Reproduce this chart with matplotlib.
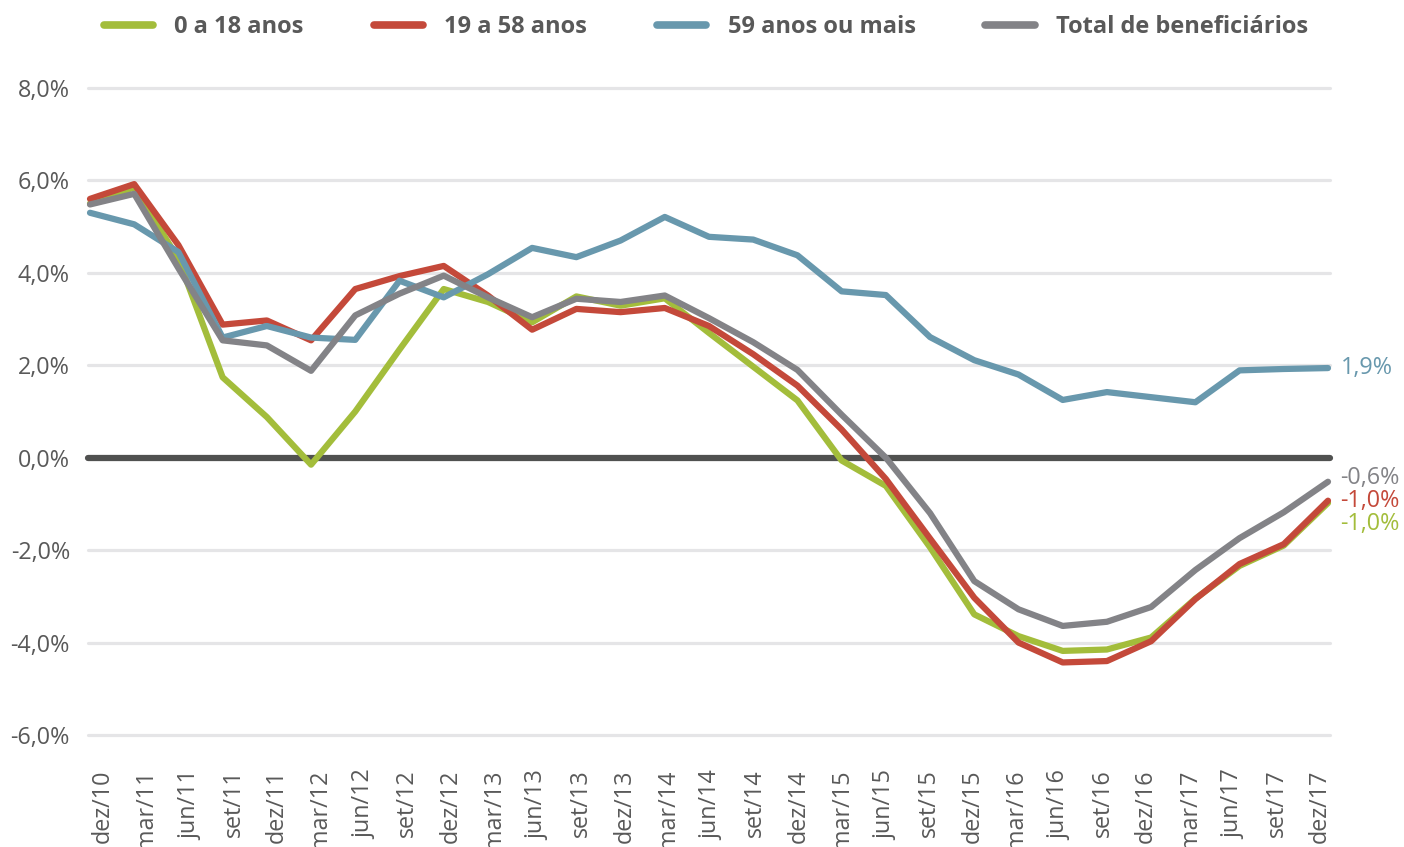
import numpy as np
import matplotlib
matplotlib.use("Agg")
import matplotlib.pyplot as plt

plt.rcParams['font.family'] = ['Open Sans', 'DejaVu Sans']

periods = ["dez/10", "mar/11", "jun/11", "set/11", "dez/11", "mar/12", "jun/12", "set/12",
           "dez/12", "mar/13", "jun/13", "set/13", "dez/13", "mar/14", "jun/14", "set/14",
           "dez/14", "mar/15", "jun/15", "set/15", "dez/15", "mar/16", "jun/16", "set/16",
           "dez/16", "mar/17", "jun/17", "set/17", "dez/17"]

age_0_18 = [5.50, 5.85, 4.30, 1.74, 0.88, -0.15, 1.00, 2.34, 3.65, 3.37, 2.93, 3.49, 3.29, 3.45,
            2.70, 1.97, 1.24, -0.06, -0.61, -1.94, -3.39, -3.86, -4.18, -4.15, -3.89, -3.05,
            -2.34, -1.90, -0.98]
age_19_58 = [5.60, 5.92, 4.60, 2.88, 2.97, 2.54, 3.65, 3.93, 4.15, 3.51, 2.77, 3.22, 3.15, 3.24,
             2.85, 2.24, 1.56, 0.61, -0.46, -1.75, -3.03, -4.00, -4.43, -4.40, -3.97, -3.06,
             -2.30, -1.87, -0.93]
age_59_plus = [5.30, 5.05, 4.45, 2.60, 2.85, 2.60, 2.55, 3.83, 3.47, 3.97, 4.54, 4.34, 4.70, 5.21,
               4.78, 4.72, 4.38, 3.60, 3.52, 2.61, 2.11, 1.80, 1.25, 1.42, 1.31, 1.20,
               1.89, 1.92, 1.94]
total = [5.48, 5.71, 4.10, 2.54, 2.43, 1.88, 3.08, 3.55, 3.94, 3.47, 3.04, 3.44, 3.37, 3.51,
         3.02, 2.50, 1.90, 0.93, 0.00, -1.20, -2.67, -3.28, -3.64, -3.55, -3.23, -2.43,
         -1.74, -1.18, -0.52]

series_names = ["0 a 18 anos", "19 a 58 anos", "59 anos ou mais", "Total de beneficiários"]
end_labels = ["-1,0%", "-1,0%", "1,9%", "-0,6%"]
yticks = [-6, -4, -2, 0, 2, 4, 6, 8]
ytick_labels = ["-6,0%", "-4,0%", "-2,0%", "0,0%", "2,0%", "4,0%", "6,0%", "8,0%"]

colors = ["#A3BD3B", "#C4493A", "#6898AD", "#838387"]
label_offsets = [(9, -15), (9, 0), (9, 0), (9, 3)]
text_grey = "#595959"
fs = 16.8

W, H = 1404, 847
fig = plt.figure(figsize=(W / 100, H / 100), dpi=100)
left, right, top, bottom = 88, 1330, 88, 735
ax = fig.add_axes([left / W, 1 - bottom / H, (right - left) / W, (bottom - top) / H])

x = np.arange(len(periods))
n = len(periods)
pad = 2 / 44.21
ax.set_xlim(-pad, n - 1 + pad)
ax.set_ylim(-6, 8)

for yv in yticks:
    if yv == 0:
        continue
    ax.axhline(yv, color="#E5E5E7", lw=2.3, zorder=1, clip_on=False, solid_capstyle="round")
ax.axhline(0, color="#505150", lw=4.5, zorder=2, clip_on=False, solid_capstyle="round")

all_series = [age_0_18, age_19_58, age_59_plus, total]
for i, (vals, name, col) in enumerate(zip(all_series, series_names, colors)):
    ax.plot(x, vals, color=col, lw=4.5, label=name, zorder=3 + i, clip_on=False,
            solid_capstyle="round", solid_joinstyle="round")
    ax.annotate(end_labels[i], xy=(x[-1], vals[-1]), xytext=label_offsets[i],
                textcoords="offset points", color=col, fontsize=fs,
                ha="left", va="center", annotation_clip=False)

for s in ax.spines.values():
    s.set_visible(False)

ax.set_yticks(yticks)
ax.set_yticklabels(ytick_labels)
label_pos = np.arange(n) * (43.46 / 44.21) + 13 / 44.21
ax.set_xticks(label_pos)
ax.set_xticklabels(periods, rotation=90, ha="center", va="top")
ax.tick_params(axis="both", length=0, labelsize=fs, labelcolor=text_grey)
ax.tick_params(axis="y", pad=13)
ax.tick_params(axis="x", pad=25)

leg = fig.legend(loc="center", bbox_to_anchor=(706 / W, 1 - 27 / H), ncol=4, frameon=False,
                 handlelength=2.1, handletextpad=0.9, columnspacing=2.95,
                 prop={"weight": "bold", "size": 17})
for t in leg.get_texts():
    t.set_color(text_grey)
for h in leg.get_lines():
    h.set_linewidth(5.5)
    h.set_solid_capstyle("round")

fig.savefig("out.png", dpi=100)
